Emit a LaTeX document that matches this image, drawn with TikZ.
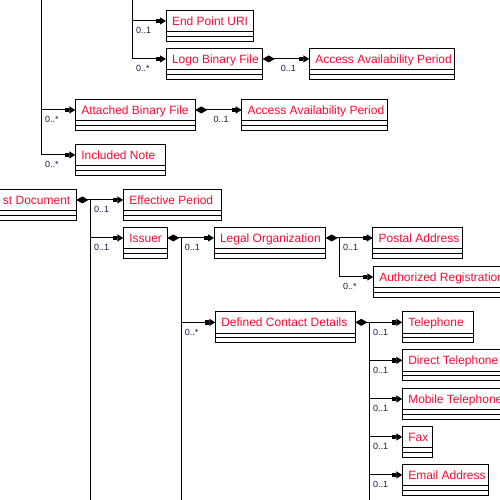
\documentclass[tikz,border=0pt]{standalone}
\usepackage{fontspec}
\setmainfont{Liberation Sans}
\usetikzlibrary{arrows.meta,calc}
\definecolor{clsred}{RGB}{245,10,50}
\definecolor{multc}{RGB}{20,25,70}
\tikzset{
 cls/.style={draw, line width=1pt, outer sep=0pt, anchor=north west, minimum height=21.3pt, inner xsep=6pt, inner ysep=0pt, text height=8.6pt, text depth=0pt, text=clsred, font=\fontsize{12}{14}\selectfont},
 conn/.style={line width=1pt},
 fwd/.style={conn, -{Rectangle[length=4pt,width=4.5pt,sep=0pt]Triangle[length=6pt,width=7pt]}},
 both/.style={conn, arrows={{Diamond[length=12pt,width=7pt]}-{Rectangle[length=4pt,width=4.5pt,sep=0pt]Triangle[length=6pt,width=7pt]}}},
 mult/.style={anchor=base west, inner sep=0pt, text=multc, font=\fontsize{9}{10}\selectfont},
 comp/.style={line width=1pt},
}
% #1 node options, #2 name, #3 x, #4 y, #5 width, #6 alignment (l/r), #7 text
\newcommand\umlcls[7][]{%
 \node[cls, #1] (#2) at (#3,#4) {\makebox[\dimexpr #5pt-12pt\relax][#6]{#7}};
 \draw[comp] (#2.south west) rectangle ($(#2.south east)+(0,9.6)$);
 \draw[comp] ($(#2.south west)+(0,4.6)$) -- ($(#2.south east)+(0,4.6)$);
}
\begin{document}
\begin{tikzpicture}[x=1pt, y=-1pt]
\useasboundingbox (0,0) rectangle (500,500);
\clip (0,0) rectangle (500,500);
% classes
\umlcls{endpt}{166}{10.3}{87}{l}{End Point URI}
\umlcls{logo}{166}{48.3}{96.7}{l}{Logo Binary File}
\umlcls{aap1}{309.3}{48.3}{145}{l}{Access Availability Period}
\umlcls{abf}{75.3}{99.3}{120}{l}{Attached Binary File}
\umlcls{aap2}{241.7}{99.3}{145.6}{l}{Access Availability Period}
\umlcls{note}{75.3}{144.3}{90}{l}{Included Note}
\umlcls[anchor=north east]{doc}{76.3}{189.3}{120}{r}{st Document}
\umlcls{eff}{123.3}{189.3}{98}{l}{Effective Period}
\umlcls{issuer}{123.3}{227.3}{44}{l}{Issuer}
\umlcls{legal}{214}{227.3}{111.7}{l}{Legal Organization}
\umlcls{postal}{372.7}{227.3}{90}{l}{Postal Address}
\umlcls{auth}{373.3}{266.3}{150}{l}{Authorized Registration}
\umlcls{dcd}{215.3}{311.7}{140}{l}{Defined Contact Details}
\umlcls{tel}{402.3}{311.7}{71}{l}{Telephone}
\umlcls{dtel}{402.3}{349.7}{120}{l}{Direct Telephone}
\umlcls{mtel}{402.3}{388.3}{120}{l}{Mobile Telephone}
\umlcls{fax}{402.3}{426.3}{30}{l}{Fax}
\umlcls{email}{402.3}{464.3}{86}{l}{Email Address}
% junction coordinates
\coordinate (vA) at (41.3,-3);
\coordinate (vB) at (132.3,-3);
\coordinate (vC) at (90.3,503);
\coordinate (vD) at (181,503);
\coordinate (vE) at (339.3,239);
\coordinate (vF) at (369.3,503);
% connectors
\draw[fwd] (vA) |- (note.west);
\draw[fwd] (vA |- abf.west) -- (abf.west);
\draw[fwd] (vB) |- (logo.west);
\draw[fwd] (vB |- endpt.west) -- (endpt.west);
\draw[both] (logo.east) -- (aap1.west);
\draw[both] (abf.east) -- (aap2.west);
\draw[both] (doc.east) -- (eff.west);
\draw[conn] ($(doc.east -| vC)+(0,-0.5)$) -- (vC);
\draw[fwd] (vC |- issuer.west) -- (issuer.west);
\draw[both] (issuer.east) -- (legal.west);
\draw[conn] ($(issuer.east -| vD)+(0,-0.5)$) -- (vD);
\draw[fwd] (vD |- dcd.west) -- (dcd.west);
\draw[both] (legal.east) -- (postal.west);
\draw[fwd] ($(legal.east -| vE)+(0,-0.5)$) |- (auth.west);
\draw[both] (dcd.east) -- (tel.west);
\draw[conn] ($(dcd.east -| vF)+(0,-0.5)$) -- (vF);
\draw[fwd] (vF |- dtel.west) -- (dtel.west);
\draw[fwd] (vF |- mtel.west) -- (mtel.west);
\draw[fwd] (vF |- fax.west) -- (fax.west);
\draw[fwd] (vF |- email.west) -- (email.west);
% multiplicities
\node[mult] (m1) at ($(vB |- endpt.west)+(3.7,13)$) {0..1};
\node[mult] (m2) at ($(vB |- logo.west)+(3.7,13)$) {0..*};
\node[mult] (m3) at ($(logo.east)+(18,13)$) {0..1};
\node[mult] (m4) at ($(vA |- abf.west)+(3.7,13)$) {0..*};
\node[mult] (m5) at ($(abf.east)+(18,13)$) {0..1};
\node[mult] (m6) at ($(vA |- note.west)+(3.7,13)$) {0..*};
\node[mult] (m7) at ($(vC |- eff.west)+(3.7,13)$) {0..1};
\node[mult] (m8) at ($(vC |- issuer.west)+(3.7,13)$) {0..1};
\node[mult] (m9) at ($(vD |- legal.west)+(3.7,13)$) {0..1};
\node[mult] (m10) at ($(vD |- dcd.west)+(3.7,13)$) {0..*};
\node[mult] (m11) at ($(vE |- postal.west)+(3.7,13)$) {0..1};
\node[mult] (m12) at ($(vE |- auth.west)+(3.7,13)$) {0..*};
\node[mult] (m13) at ($(vF |- tel.west)+(3.7,13)$) {0..1};
\node[mult] (m14) at ($(vF |- dtel.west)+(3.7,13)$) {0..1};
\node[mult] (m15) at ($(vF |- mtel.west)+(3.7,13)$) {0..1};
\node[mult] (m16) at ($(vF |- fax.west)+(3.7,13)$) {0..1};
\node[mult] (m17) at ($(vF |- email.west)+(3.7,13)$) {0..1};
\end{tikzpicture}
\end{document}
